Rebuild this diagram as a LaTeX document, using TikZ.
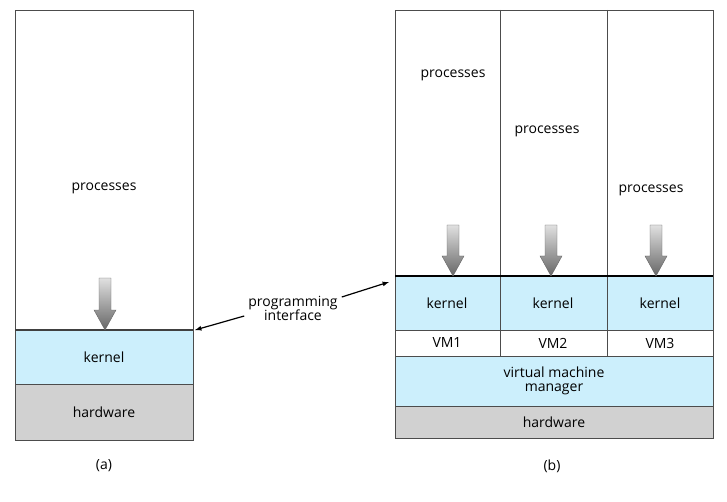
\documentclass[tikz,border=0pt]{standalone}
\usepackage{fontspec}
\setmainfont{Open Sans}
\begin{document}
\begin{tikzpicture}[x=1pt,y=-1pt,font=\fontsize{14}{16}\selectfont,
 box/.style={draw=black!70,line width=0.6pt},
 blue/.style={box,fill=cyan!20},
 hw/.style={box,fill=black!18},
 lab/.style={inner sep=0pt,align=center}]
\useasboundingbox (0,0) rectangle (727,502);
\newcommand{\garrow}[3]{% x, ytop, ybottom
 \shade[top color=black!12,bottom color=black!60,draw=black!60,line width=0.4pt]
  (#1-6,#2) -- (#1+6,#2) -- (#1+6,#3-20) -- (#1+11,#3-20) -- (#1,#3) -- (#1-11,#3-20) -- (#1-6,#3-20) -- cycle;}
% (a)
\draw[box] (15,10) rectangle (193,440);
\draw[blue] (15,330) rectangle (193,384);
\draw[hw] (15,384) rectangle (193,440);
\draw[line width=1.2pt,black!75] (15,330) -- (193,330);
\node[lab] (pa) at (104,188) {processes};
\node[lab] (ka) at (104,357) {kernel};
\node[lab] (ha) at (104,412) {hardware};
\garrow{105}{278}{330}
\node[lab] (la) at (104,466) {(a)};
% (b)
\draw[box] (395,10) rectangle (713,438);
\draw[box] (500,10) -- (500,356);
\draw[box] (607,10) -- (607,356);
\draw[blue] (395,276) rectangle (713,330);
\draw[box] (500,276) -- (500,356) (607,276) -- (607,356);
\draw[box,fill=white] (395,330) rectangle (713,356);
\draw[box] (500,330) -- (500,356) (607,330) -- (607,356);
\draw[blue] (395,356) rectangle (713,406);
\draw[hw] (395,406) rectangle (713,438);
\draw[line width=2.2pt] (395,276) -- (713,276);
\node[lab] (p1) at (453,75) {processes};
\node[lab] (p2) at (547,131) {processes};
\node[lab] (p3) at (651,190) {processes};
\garrow{453}{225}{276}
\garrow{551}{225}{276}
\garrow{656}{225}{276}
\node[lab] (k1) at (447,303) {kernel};
\node[lab] (k2) at (553,303) {kernel};
\node[lab] (k3) at (660,303) {kernel};
\node[lab] (v1) at (447,343) {VM1};
\node[lab] (v2) at (553,343) {VM2};
\node[lab] (v3) at (660,343) {VM3};
\node[lab] (vmm) at (554,381) {virtual machine\\[-2pt]manager};
\node[lab] (hb) at (554,422) {hardware};
\node[lab] (lb) at (552,466) {(b)};
% programming interface
\node[lab] (pi) at (293,308) {programming\\[-2pt]interface};
\coordinate (ta) at (195,330);
\coordinate (tb) at (389,282);
\draw[-latex,line width=1.2pt] (pi.west|-0,316) ++(-4,0) -- (ta);
\draw[-latex,line width=1.2pt] (pi.east|-0,297) ++(4,0) -- (tb);
\end{tikzpicture}
\end{document}
